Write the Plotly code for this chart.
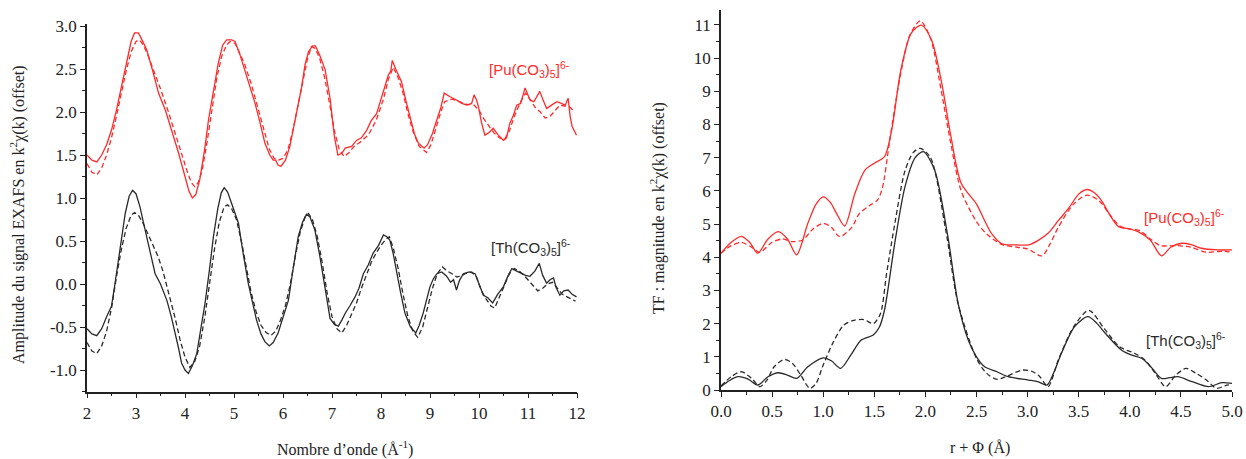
import plotly.graph_objects as go

# ---------------- Left panel: EXAFS k^2 chi(k) (offset) ----------------
k_pu = [2.0,2.1,2.2,2.3,2.4,2.5,2.6,2.7,2.8,2.9,2.97,3.05,3.13,3.22,3.34,3.46,3.6,3.73,3.87,4.0,4.08,4.15,4.22,4.3,4.4,4.48,4.58,4.68,4.77,4.85,4.95,5.02,5.12,5.22,5.32,5.43,5.53,5.63,5.73,5.8,5.85,5.9,5.96,6.05,6.14,6.25,6.38,6.45,6.52,6.6,6.66,6.75,6.86,6.96,7.05,7.12,7.2,7.27,7.4,7.5,7.6,7.71,7.8,7.91,8.03,8.15,8.2,8.23,8.3,8.42,8.5,8.59,8.68,8.76,8.88,8.95,9.05,9.14,9.22,9.29,9.4,9.54,9.65,9.75,9.85,9.9,9.95,9.99,10.05,10.12,10.2,10.29,10.38,10.5,10.56,10.63,10.7,10.77,10.85,10.94,11.0,11.04,11.12,11.24,11.3,11.38,11.48,11.59,11.68,11.76,11.82,11.86,11.9,11.99]
pu_exp = [1.50,1.44,1.42,1.50,1.62,1.79,2.02,2.30,2.58,2.82,2.92,2.92,2.83,2.72,2.48,2.22,2.02,1.79,1.52,1.25,1.08,1.00,1.04,1.21,1.56,1.91,2.26,2.57,2.78,2.84,2.84,2.82,2.67,2.49,2.30,2.10,1.88,1.64,1.50,1.44,1.44,1.38,1.37,1.44,1.60,1.92,2.29,2.55,2.70,2.77,2.77,2.66,2.49,2.16,1.71,1.50,1.52,1.58,1.60,1.67,1.70,1.79,1.90,1.98,2.20,2.43,2.48,2.60,2.50,2.35,2.15,1.95,1.75,1.64,1.58,1.62,1.75,1.91,2.05,2.22,2.18,2.14,2.10,2.08,2.10,2.20,2.14,2.06,1.88,1.73,1.76,1.81,1.74,1.67,1.70,1.87,1.96,2.08,2.10,2.28,2.20,2.14,2.12,2.24,2.15,2.04,2.08,2.12,2.10,2.08,2.16,1.95,1.83,1.73]

k_pu_fit = [2.0,2.1,2.2,2.3,2.4,2.5,2.6,2.7,2.8,2.9,3.0,3.07,3.15,3.25,3.35,3.5,3.65,3.8,3.93,4.05,4.13,4.2,4.27,4.35,4.45,4.55,4.65,4.75,4.85,4.92,5.02,5.12,5.22,5.35,5.5,5.62,5.72,5.82,5.9,6.0,6.1,6.2,6.3,6.4,6.5,6.58,6.66,6.75,6.85,6.95,7.05,7.15,7.25,7.35,7.45,7.6,7.75,7.9,8.05,8.15,8.25,8.35,8.45,8.55,8.65,8.78,8.93,9.02,9.12,9.22,9.3,9.45,9.6,9.75,9.9,10.0,10.1,10.2,10.3,10.42,10.52,10.62,10.72,10.85,10.95,11.05,11.15,11.25,11.35,11.45,11.55,11.65,11.75,11.85,11.95]
pu_fit = [1.40,1.30,1.27,1.35,1.50,1.70,1.95,2.22,2.48,2.70,2.82,2.84,2.78,2.65,2.50,2.27,2.02,1.75,1.50,1.30,1.18,1.13,1.18,1.32,1.65,2.05,2.40,2.65,2.78,2.82,2.80,2.68,2.55,2.33,2.02,1.75,1.57,1.46,1.44,1.46,1.56,1.78,2.05,2.35,2.62,2.76,2.74,2.62,2.40,2.10,1.78,1.56,1.48,1.53,1.60,1.66,1.74,1.90,2.15,2.38,2.52,2.40,2.22,1.98,1.78,1.60,1.53,1.62,1.82,2.00,2.12,2.15,2.12,2.09,2.08,2.02,1.92,1.84,1.76,1.70,1.68,1.78,1.95,2.12,2.22,2.14,2.05,2.00,1.93,1.95,2.02,2.08,2.07,2.06,2.00]

k_th = [2.0,2.1,2.2,2.3,2.4,2.5,2.57,2.64,2.71,2.78,2.86,2.93,3.0,3.08,3.15,3.22,3.3,3.39,3.5,3.63,3.72,3.8,3.87,3.93,4.0,4.07,4.15,4.24,4.33,4.41,4.5,4.58,4.67,4.74,4.8,4.87,4.95,5.02,5.09,5.18,5.29,5.38,5.46,5.55,5.63,5.72,5.8,5.9,6.0,6.11,6.2,6.31,6.4,6.48,6.55,6.65,6.75,6.86,6.96,7.05,7.13,7.2,7.27,7.37,7.47,7.55,7.64,7.74,7.84,7.95,8.05,8.12,8.18,8.25,8.32,8.4,8.49,8.6,8.71,8.78,8.86,8.93,9.0,9.07,9.14,9.24,9.34,9.42,9.48,9.54,9.6,9.68,9.8,9.92,10.0,10.09,10.18,10.28,10.38,10.5,10.58,10.67,10.77,10.87,10.95,11.04,11.14,11.23,11.3,11.38,11.45,11.52,11.58,11.65,11.73,11.82,11.9,11.99]
th_exp = [-0.52,-0.58,-0.60,-0.52,-0.38,-0.26,0.0,0.28,0.55,0.82,1.02,1.09,1.05,0.90,0.72,0.55,0.32,0.12,0.0,-0.19,-0.38,-0.57,-0.75,-0.92,-1.0,-1.04,-0.95,-0.81,-0.52,-0.22,0.17,0.55,0.88,1.06,1.12,1.07,0.94,0.82,0.71,0.38,0.01,-0.22,-0.42,-0.58,-0.67,-0.72,-0.68,-0.57,-0.40,-0.19,0.15,0.55,0.72,0.81,0.78,0.63,0.33,-0.03,-0.40,-0.47,-0.49,-0.42,-0.34,-0.25,-0.15,-0.05,0.12,0.22,0.36,0.45,0.57,0.55,0.51,0.35,0.12,-0.10,-0.34,-0.50,-0.57,-0.48,-0.34,-0.18,-0.03,0.06,0.12,0.14,0.09,0.02,0.05,-0.07,0.04,0.12,0.14,0.12,0.0,-0.13,-0.16,-0.22,-0.12,-0.03,0.08,0.18,0.15,0.12,0.10,0.09,0.15,0.24,0.10,0.01,0.05,0.07,-0.05,-0.13,-0.08,-0.07,-0.12,-0.15]

k_th_fit = [2.0,2.1,2.2,2.3,2.4,2.5,2.6,2.7,2.8,2.9,2.97,3.05,3.15,3.25,3.35,3.45,3.55,3.68,3.8,3.9,4.0,4.1,4.2,4.3,4.4,4.5,4.6,4.7,4.8,4.87,4.95,5.05,5.15,5.25,5.35,5.45,5.55,5.65,5.75,5.85,5.95,6.05,6.15,6.25,6.35,6.45,6.52,6.6,6.7,6.8,6.9,7.0,7.1,7.2,7.3,7.4,7.5,7.6,7.7,7.8,7.9,8.0,8.1,8.17,8.25,8.35,8.45,8.55,8.65,8.75,8.85,8.95,9.05,9.15,9.25,9.35,9.45,9.55,9.65,9.75,9.85,9.95,10.05,10.15,10.25,10.32,10.42,10.52,10.62,10.72,10.82,10.92,11.0,11.1,11.2,11.3,11.4,11.5,11.6,11.7,11.8,11.9,11.97]
th_fit = [-0.68,-0.78,-0.81,-0.72,-0.55,-0.28,0.08,0.40,0.65,0.80,0.83,0.80,0.70,0.58,0.45,0.32,0.15,-0.12,-0.40,-0.65,-0.85,-0.97,-0.90,-0.72,-0.40,0.0,0.40,0.72,0.90,0.92,0.88,0.75,0.50,0.20,-0.10,-0.32,-0.48,-0.56,-0.60,-0.55,-0.42,-0.25,0.0,0.32,0.60,0.78,0.82,0.75,0.55,0.25,-0.10,-0.38,-0.52,-0.57,-0.48,-0.35,-0.22,-0.05,0.10,0.25,0.36,0.45,0.52,0.55,0.42,0.18,-0.12,-0.38,-0.55,-0.62,-0.50,-0.28,-0.05,0.12,0.20,0.15,0.12,0.08,0.10,0.13,0.14,0.08,-0.08,-0.18,-0.26,-0.28,-0.15,-0.02,0.12,0.18,0.15,0.10,0.05,-0.02,-0.08,-0.05,0.0,0.02,-0.05,-0.12,-0.15,-0.18,-0.20]

# ---------------- Right panel: Fourier transform magnitude (offset) ----------------
r_pu = [0.0,0.1,0.2,0.28,0.36,0.46,0.56,0.65,0.74,0.85,0.93,1.0,1.07,1.13,1.21,1.31,1.41,1.5,1.6,1.67,1.76,1.86,1.96,2.06,2.16,2.25,2.35,2.5,2.58,2.65,2.75,2.9,3.01,3.1,3.2,3.3,3.4,3.5,3.58,3.65,3.72,3.8,3.89,4.0,4.08,4.2,4.31,4.4,4.51,4.6,4.7,4.85,5.0]
ft_pu_exp = [4.12,4.45,4.63,4.45,4.12,4.55,4.77,4.55,4.07,5.02,5.6,5.82,5.65,5.32,4.94,5.92,6.63,6.83,7.03,7.83,9.64,10.74,10.99,10.54,9.24,7.63,6.23,5.6,5.1,4.7,4.4,4.37,4.37,4.5,4.72,5.1,5.47,5.9,6.04,5.95,5.72,5.3,4.92,4.85,4.77,4.52,4.04,4.3,4.42,4.38,4.27,4.22,4.22]

r_pu_fit = [0.0,0.1,0.2,0.3,0.38,0.5,0.6,0.7,0.8,0.9,1.0,1.08,1.16,1.28,1.35,1.45,1.53,1.58,1.65,1.75,1.85,1.95,2.05,2.15,2.25,2.35,2.5,2.6,2.75,2.9,3.0,3.14,3.22,3.3,3.45,3.58,3.7,3.8,3.9,4.0,4.1,4.2,4.3,4.45,4.6,4.75,4.9,5.0]
ft_pu_fit = [4.12,4.35,4.45,4.3,4.15,4.45,4.55,4.47,4.52,4.85,5.02,4.9,4.62,4.9,5.3,5.55,5.72,6.1,7.5,9.4,10.7,11.12,10.6,9.1,7.4,6.0,5.07,4.7,4.38,4.3,4.25,4.04,4.4,4.9,5.6,5.87,5.7,5.3,4.95,4.85,4.8,4.55,4.35,4.35,4.3,4.15,4.18,4.15]

r_th = [0.0,0.08,0.17,0.27,0.36,0.46,0.56,0.65,0.74,0.85,1.0,1.08,1.17,1.27,1.37,1.49,1.55,1.6,1.7,1.8,1.9,1.98,2.09,2.22,2.32,2.42,2.5,2.58,2.7,2.81,3.01,3.1,3.19,3.26,3.33,3.46,3.59,3.68,3.76,3.92,4.02,4.12,4.22,4.31,4.39,4.47,4.61,4.77,4.9,5.0]
ft_th_exp = [0.1,0.28,0.4,0.32,0.15,0.4,0.52,0.45,0.35,0.7,0.97,0.88,0.65,1.05,1.5,1.66,1.9,2.41,4.42,6.12,7.0,7.18,6.63,4.62,2.61,1.5,1.0,0.7,0.55,0.4,0.3,0.25,0.15,0.55,1.1,1.91,2.21,2.0,1.71,1.2,1.05,0.95,0.65,0.35,0.37,0.4,0.25,0.1,0.22,0.2]

r_th_fit = [0.0,0.1,0.2,0.3,0.38,0.45,0.52,0.62,0.7,0.78,0.87,0.93,1.0,1.1,1.2,1.3,1.4,1.49,1.56,1.62,1.7,1.8,1.88,1.95,2.05,2.2,2.32,2.5,2.6,2.7,2.8,2.95,3.05,3.12,3.2,3.3,3.45,3.6,3.75,3.9,4.05,4.15,4.25,4.35,4.45,4.55,4.65,4.75,4.85,4.95,5.0]
ft_th_fit = [0.12,0.4,0.55,0.35,0.1,0.3,0.7,0.92,0.8,0.45,0.05,0.2,0.75,1.45,1.95,2.1,2.12,2.0,2.3,3.5,5.0,6.6,7.15,7.28,7.0,4.8,2.6,0.95,0.5,0.32,0.42,0.6,0.55,0.4,0.1,0.9,1.9,2.4,1.85,1.3,1.1,0.9,0.5,0.1,0.45,0.65,0.5,0.3,0.05,0.15,0.15]

RED = "#ff2a2a"
BLK = "#2a2a2a"
DASH = "5px,3px"
SERIF = "Liberation Serif"
SANS = "Liberation Sans"
W = 1246
H = 459

fig = go.Figure()

def add(x, y, color, dash, xa, ya, shape="linear"):
    fig.add_trace(go.Scatter(
        x=x, y=y, mode="lines", xaxis=xa, yaxis=ya, showlegend=False, hoverinfo="skip",
        line=dict(color=color, width=1.3, dash=dash, shape=shape,
                  smoothing=0.8 if shape == "spline" else None)))

add(k_pu_fit, pu_fit, RED, DASH, "x", "y")
add(k_pu, pu_exp, RED, "solid", "x", "y")
add(k_th_fit, th_fit, BLK, DASH, "x", "y")
add(k_th, th_exp, BLK, "solid", "x", "y")

add(r_pu_fit, ft_pu_fit, RED, DASH, "x2", "y2", "spline")
add(r_pu, ft_pu_exp, RED, "solid", "x2", "y2", "spline")
add(r_th_fit, ft_th_fit, BLK, DASH, "x2", "y2", "spline")
add(r_th, ft_th_exp, BLK, "solid", "x2", "y2", "spline")

tickfont = dict(family=SERIF, size=17, color="#222")
common = dict(showline=True, linecolor="#222", linewidth=1.5, ticks="outside",
              ticklen=5, tickwidth=1.3, tickcolor="#222", showgrid=False,
              zeroline=False, tickfont=tickfont, mirror=False, automargin=False)

left_yvals = [-1.0, -0.5, 0.0, 0.5, 1.0, 1.5, 2.0, 2.5, 3.0]
left_ytext = ["%.1f" % v for v in left_yvals]

fig.update_layout(
    width=W, height=H, plot_bgcolor="white", paper_bgcolor="white",
    margin=dict(l=0, r=0, t=0, b=0, autoexpand=False),
    xaxis=dict(domain=[87 / W, 577 / W], range=[2, 12], dtick=1, anchor="y",
               minor=dict(ticks="outside", ticklen=3, dtick=0.5, tickcolor="#222"), **common),
    yaxis=dict(domain=[(H - 391.5) / H, (H - 24.3) / H], range=[-1.25, 3.02], anchor="x",
               tickmode="array", tickvals=left_yvals, ticktext=left_ytext,
               minor=dict(ticks="outside", ticklen=3, dtick=0.25, tickcolor="#222"), **common),
    xaxis2=dict(domain=[721 / W, 1232 / W], range=[0, 5], dtick=0.5, tickformat=".1f", anchor="y2",
                minor=dict(ticks="outside", ticklen=3, dtick=0.25, tickcolor="#222"), **common),
    yaxis2=dict(domain=[(H - 390) / H, (H - 9.9) / H], range=[0, 11.45], dtick=1, anchor="x2",
                minor=dict(ticks="outside", ticklen=3, dtick=0.5, tickcolor="#222"), **common),
)

title_font = dict(family=SERIF, size=16, color="#222")
ann = [
    dict(text="Nombre d\u2019onde (\u00c5<sup>-1</sup>)", x=345 / W, y=(H - 448) / H),
    dict(text="r + \u03a6 (\u00c5)", x=980 / W, y=(H - 448) / H),
    dict(text="Amplitude du signal EXAFS en k<sup>2</sup>\u03c7(k) (offset)", x=18 / W, y=(H - 215) / H, textangle=-90),
    dict(text="TF : magnitude en k<sup>2</sup>\u03c7(k) (offset)", x=657 / W, y=(H - 208) / H, textangle=-90),
]
for a in ann:
    fig.add_annotation(xref="paper", yref="paper", showarrow=False, font=title_font,
                       xanchor="center", yanchor="middle", **a)

lab_font = dict(family=SANS, size=15)
pu_txt = "[Pu(CO<sub>3</sub>)<sub>5</sub>]<sup>6-</sup>"
th_txt = "[Th(CO<sub>3</sub>)<sub>5</sub>]<sup>6-</sup>"
fig.add_annotation(xref="x", yref="y", x=11.04, y=2.5, text=pu_txt, showarrow=False,
                   font=dict(color=RED, **lab_font))
fig.add_annotation(xref="x", yref="y", x=11.06, y=0.42, text=th_txt, showarrow=False,
                   font=dict(color=BLK, **lab_font))
fig.add_annotation(xref="x2", yref="y2", x=4.54, y=5.2, text=pu_txt, showarrow=False,
                   font=dict(color=RED, **lab_font))
fig.add_annotation(xref="x2", yref="y2", x=4.55, y=1.5, text=th_txt, showarrow=False,
                   font=dict(color=BLK, **lab_font))

fig.write_html("out.html", config={"displayModeBar": False},
               post_script="document.body.style.margin='0';document.body.style.overflow='hidden';")
